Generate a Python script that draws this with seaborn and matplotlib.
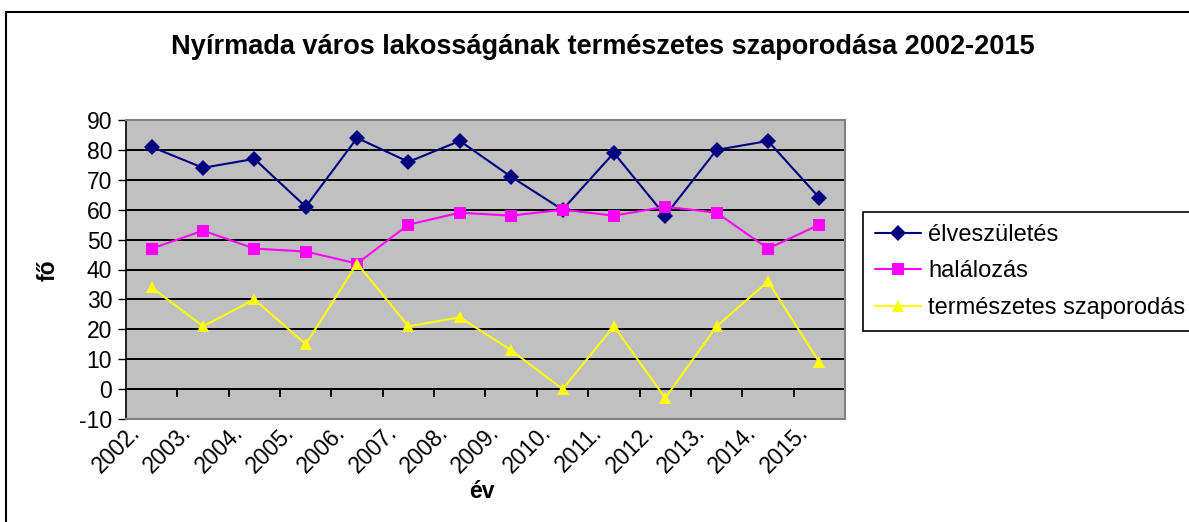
import pandas as pd
import seaborn as sns
import matplotlib.pyplot as plt
from matplotlib.patches import Rectangle
from matplotlib.transforms import ScaledTranslation

years = ["2002.", "2003.", "2004.", "2005.", "2006.", "2007.", "2008.",
         "2009.", "2010.", "2011.", "2012.", "2013.", "2014.", "2015."]
births = [81, 74, 77, 61, 84, 76, 83, 71, 60, 79, 58, 80, 83, 64]
deaths = [47, 53, 47, 46, 42, 55, 59, 58, 60, 58, 61, 59, 47, 55]
natural = [34, 21, 30, 15, 42, 21, 24, 13, 0, 21, -3, 21, 36, 9]
series = ["élveszületés", "halálozás", "természetes szaporodás"]

rows = []
for name, vals in zip(series, [births, deaths, natural]):
    for i, v in enumerate(vals):
        rows.append({"idx": i, "value": v, "series": name})
df = pd.DataFrame(rows)

sns.set_style("white", {"text.color": "black", "xtick.color": "black",
                        "ytick.color": "black", "axes.labelcolor": "black"})
plt.rcParams["font.family"] = ["Liberation Sans", "DejaVu Sans"]
plt.rcParams["axes.unicode_minus"] = False

fig = plt.figure(figsize=(11.89, 5.22), dpi=100)
ax = fig.add_axes([126 / 1189, 1 - 419 / 522, (845 - 126) / 1189, (419 - 120) / 522])
ax.set_facecolor("#C0C0C0")

palette = {series[0]: "#000080", series[1]: "#FF00FF", series[2]: "#FFFF00"}
markers = {series[0]: "D", series[1]: "s", series[2]: "^"}
sns.lineplot(data=df, x="idx", y="value", hue="series", style="series",
             palette=palette, markers=markers, dashes=False, ax=ax,
             linewidth=1.5, markersize=8, markeredgewidth=0, zorder=3)

ax.set_xlim(-0.5, 13.5)
ax.set_ylim(-10, 90)
ax.set_yticks(range(-10, 91, 10))
ax.yaxis.grid(True, color="black", linewidth=1.4)
ax.set_axisbelow(True)
ax.tick_params(axis="y", left=True, direction="out", length=6, width=1,
               labelsize=16.5, pad=4, color="black", labelcolor="black")

ax.set_xticks(range(len(years)))
ax.set_xticklabels(years, rotation=45, ha="right", va="center",
                   rotation_mode="anchor", fontsize=16.5, color="black")
ax.tick_params(axis="x", bottom=False, length=0, pad=7)
off = ScaledTranslation(-15 / 100, 0, fig.dpi_scale_trans)
for lbl in ax.get_xticklabels():
    lbl.set_transform(lbl.get_transform() + off)

# category axis crosses at 0
sec = ax.secondary_xaxis(0.1)
sec.set_xticks([i + 0.5 for i in range(len(years))])
sec.set_xticklabels([])
sec.tick_params(axis="x", direction="out", length=6, width=1.4, color="black")
sec.spines["bottom"].set_color("black")
sec.spines["bottom"].set_linewidth(1.4)

for side in ["top", "right", "bottom"]:
    ax.spines[side].set_color("#808080")
    ax.spines[side].set_linewidth(1.5)
ax.spines["left"].set_color("black")
ax.spines["left"].set_linewidth(1.2)

ax.set_xlabel("")
ax.set_ylabel("")
fig.text(482 / 1189, 1 - 492 / 522, "év", ha="center", va="center",
         fontsize=16.5, fontweight="bold", color="black")
fig.text(48 / 1189, 1 - 270 / 522, "fő", ha="center", va="center",
         rotation=90, fontsize=16.5, fontweight="bold", color="black")
fig.text(603 / 1189, 1 - 47 / 522,
         "Nyírmada város lakosságának természetes szaporodása 2002-2015",
         ha="center", va="center", fontsize=19.5, fontweight="bold",
         color="black")

leg = ax.legend(loc="upper left", bbox_to_anchor=(863 / 1189, 1 - 212 / 522),
                bbox_transform=fig.transFigure, fontsize=17, frameon=True,
                fancybox=False, edgecolor="black", framealpha=1,
                handlelength=1.95, labelspacing=0.62, borderpad=0.5,
                handletextpad=0.3, borderaxespad=0, labelcolor="black")
leg.get_frame().set_linewidth(1.2)

fig.add_artist(Rectangle((6 / 1189, -0.1), 1.2, 1 - 12 / 522 + 0.1,
                         transform=fig.transFigure, fill=False,
                         edgecolor="black", linewidth=1.5))

fig.savefig("out.png", dpi=100)
